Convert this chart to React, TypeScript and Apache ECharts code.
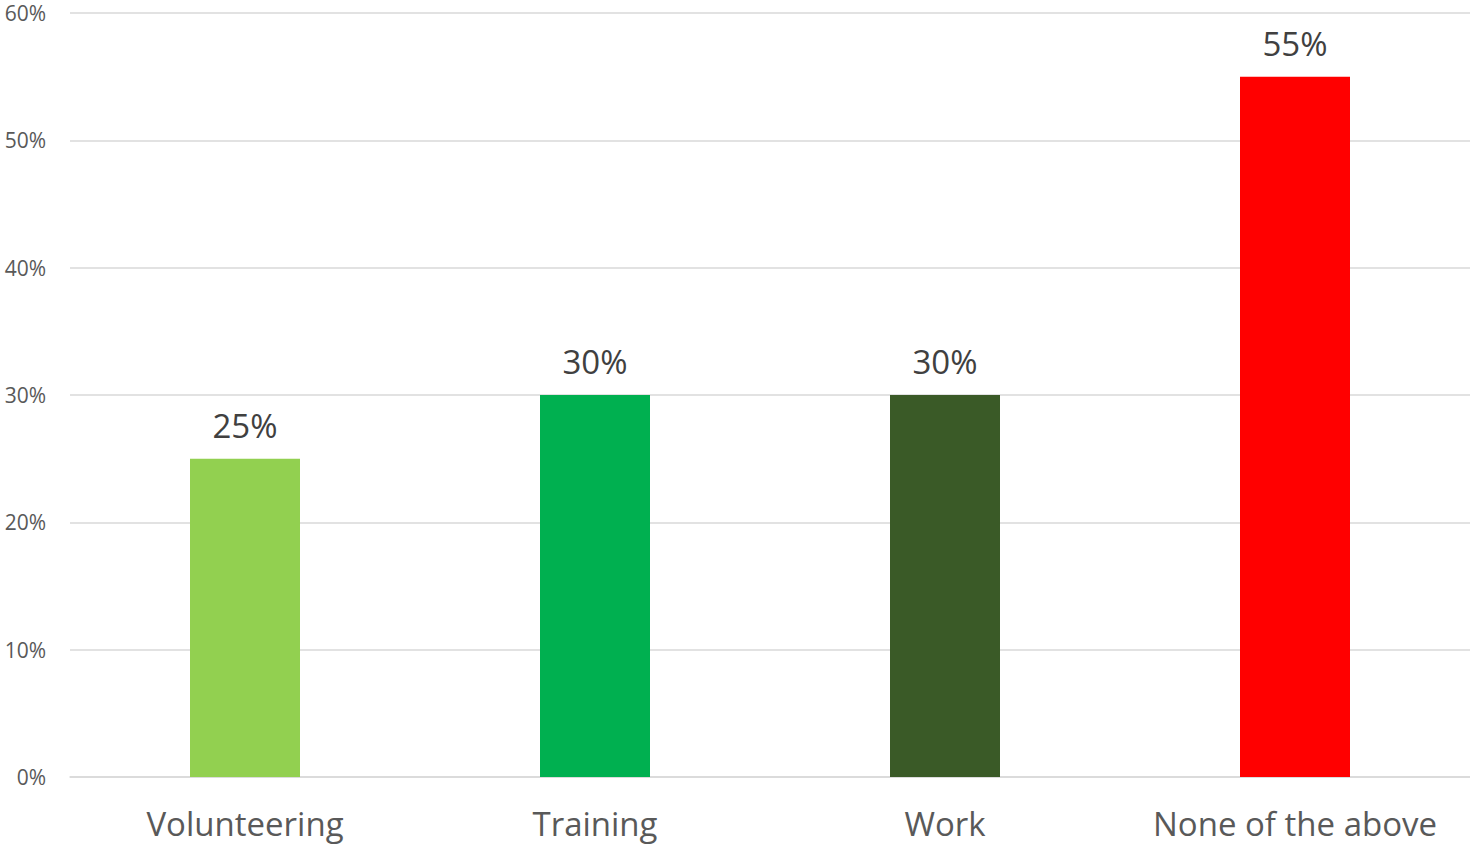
import React, { useEffect, useRef } from "react";
import * as echarts from "echarts";

const categories = ["Volunteering", "Training", "Work", "None of the above"];
const values = [25, 30, 30, 55];
const barColors = ["#92D050", "#00B050", "#3A5A27", "#FF0000"];
const yTicks = [0, 10, 20, 30, 40, 50, 60];

export default function App() {
  const ref = useRef<HTMLDivElement>(null);
  useEffect(() => {
    const chart = echarts.init(ref.current!, null, { renderer: "svg" });
    chart.setOption({
      animation: false,
      textStyle: { fontFamily: "Open Sans" },
      grid: { left: 70, right: 0, top: 13, bottom: 69, containLabel: false },
      xAxis: {
        type: "category",
        data: categories,
        axisLine: { show: true, lineStyle: { color: "#D9D9D9", width: 1.5 } },
        axisTick: { show: false },
        axisLabel: {
          color: "#595959",
          fontSize: 33,
          margin: 30,
          interval: 0,
          hideOverlap: false,
          fontFamily: "Open Sans",
        },
      },
      yAxis: {
        type: "value",
        min: yTicks[0],
        max: yTicks[yTicks.length - 1],
        interval: 10,
        axisLine: { show: false },
        axisTick: { show: false },
        splitLine: { lineStyle: { color: "#D9D9D9", width: 1.5 } },
        axisLabel: { color: "#595959", fontSize: 21, margin: 24, formatter: "{value}%", fontFamily: "Open Sans" },
      },
      series: [
        {
          type: "bar",
          barWidth: 110,
          data: values.map((v, i) => ({ value: v, itemStyle: { color: barColors[i] } })),
          label: {
            show: true,
            position: "top",
            distance: 17,
            formatter: "{c}%",
            color: "#404040",
            fontSize: 33,
            fontFamily: "Open Sans",
          },
        },
      ],
    });
    return () => chart.dispose();
  }, []);
  return (
    <div
      ref={ref}
      style={{ position: "fixed", left: 0, top: 0, width: 1470, height: 846, background: "#fff" }}
    />
  );
}
